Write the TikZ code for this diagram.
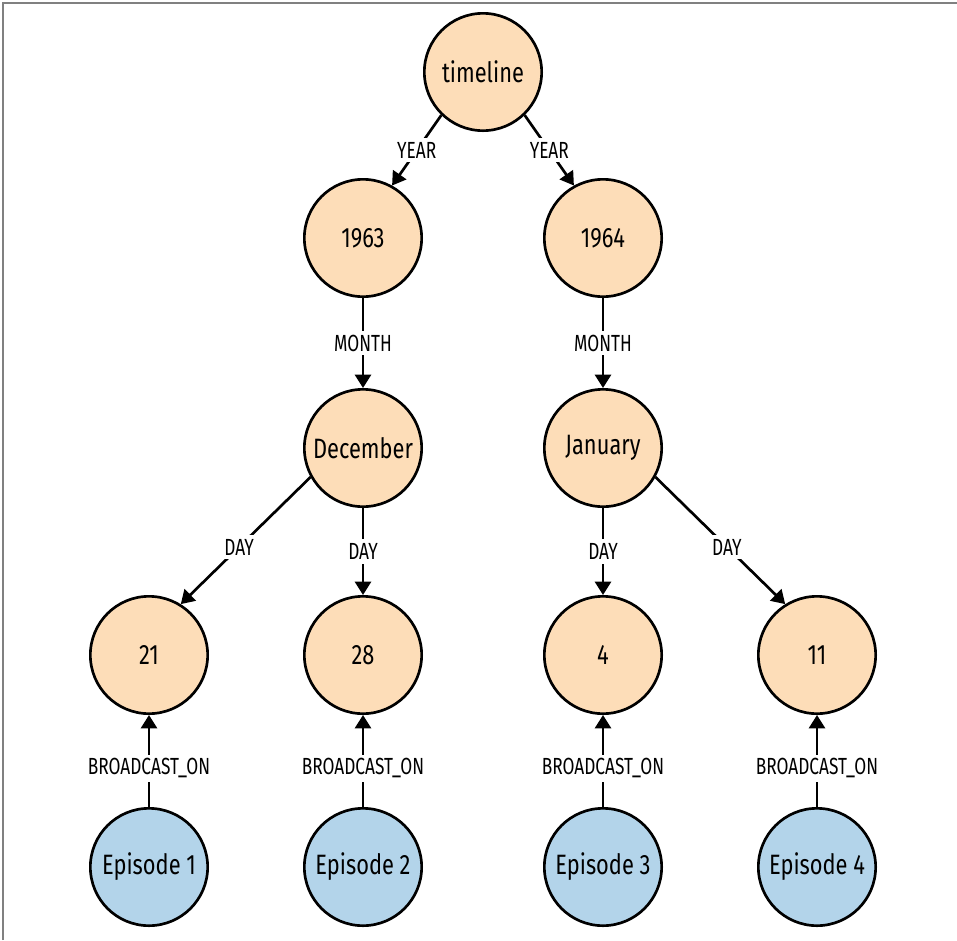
\documentclass[tikz,border=0pt]{standalone}
\usepackage{fontspec}
\setmainfont[FakeStretch=0.78]{Fira Sans}
\newfontfamily\lblfont[FakeStretch=0.74]{Fira Sans}
\usetikzlibrary{arrows.meta}
\definecolor{datefill}{HTML}{FDDDB8}
\definecolor{epfill}{HTML}{B3D4EA}

\begin{document}
\begin{tikzpicture}[x=0.75pt,y=-0.75pt,
    datenode/.style={circle,draw,line width=2pt,fill=datefill,minimum size=88pt,inner sep=0pt,font=\fontsize{21}{24}\selectfont},
    epnode/.style={datenode,fill=epfill},
    rel/.style={line width=2pt,-{Triangle[length=10pt,width=12pt]}},
    lbl/.style={fill=white,inner sep=3pt,font=\lblfont\fontsize{17.5}{20}\selectfont}]
    \useasboundingbox (0,0) rectangle (957,940);
    \draw[gray,line width=1.5pt] (3,940) -- (3,3) -- (957,3);
    \node[datenode] (timeline) at (483,72) {timeline};
    \node[datenode] (y1963) at (363,238) {1963};
    \node[datenode] (y1964) at (603,238) {1964};
    \node[datenode] (dec) at (363,448) {December};
    \node[datenode] (jan) at (603,448) {January};
    \draw[rel] (timeline.226) -- node[lbl] {YEAR} (y1963.61);
    \draw[rel] (timeline.314) -- node[lbl] {YEAR} (y1964.119);
    \draw[rel] (y1963) -- node[lbl] {MONTH} (dec);
    \draw[rel] (y1964) -- node[lbl] {MONTH} (jan);
    \foreach \d/\x/\e in {21/149/1, 28/363/2, 4/603/3, 11/817/4} {
        \node[datenode] (d\d) at (\x,655) {\d};
        \node[epnode] (ep\e) at (\x,867) {Episode \e};
        \draw[rel] (ep\e) -- node[lbl,pos=0.42] {BROADCAST\_ON} (d\d);
    }
    \draw[rel] (dec.209) -- node[lbl,pos=0.55] {DAY} (d21.58);
    \draw[rel] (dec) -- node[lbl] {DAY} (d28);
    \draw[rel] (jan) -- node[lbl] {DAY} (d4);
    \draw[rel] (jan.331) -- node[lbl,pos=0.55] {DAY} (d11.122);
\end{tikzpicture}
\end{document}
